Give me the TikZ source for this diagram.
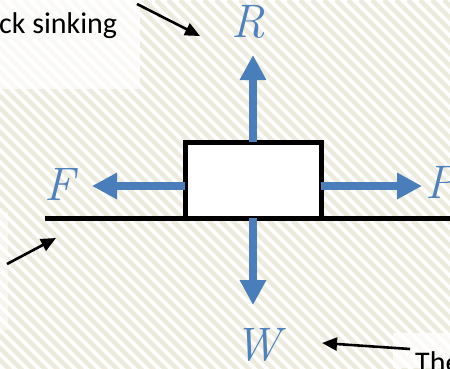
\documentclass[tikz,border=0pt]{standalone}
\usepackage{fontspec}
\newfontfamily\calibri{Carlito}
\usetikzlibrary{arrows.meta}
\definecolor{forceblue}{HTML}{4A7EBB}
\definecolor{labelblue}{HTML}{4F81BD}
\definecolor{stripebeige}{HTML}{ECEBDD}
\tikzset{
  stripe/.style={stripebeige, line width=4.5pt},
  force/.style={forceblue, line width=8.5pt, -{Triangle[length=25pt,width=25pt]}, shorten >=0pt},
  pointer/.style={black, line width=2.6pt, -{Triangle[length=15pt,width=13pt]}},
  flabel/.style={labelblue, inner sep=0pt, anchor=base, font=\fontsize{47}{47}\selectfont\itshape\addfontfeatures{FakeBold=4}},
  note/.style={inner sep=0pt, anchor=base west, font=\calibri\fontsize{30}{30}\selectfont},
  box/.style={draw=black, fill=white, line width=5pt, outer sep=0pt, inner sep=0pt, minimum width=136pt, minimum height=76pt},
  ground/.style={black, line width=5pt},
  paper/.style={white, opacity=0.75}
}
\begin{document}
\begin{tikzpicture}[x=1pt,y=-1pt]
\useasboundingbox (0,0) rectangle (450,368);
% background
\begin{scope}
  \clip (0,0) rectangle (450,368);
  \fill[white] (0,0) rectangle (450,368);
  \foreach \i in {-384,-372,...,460} \draw[stripe] (\i,0) -- ++(390,390);
  \fill[paper] (0,0) rectangle (140,89);
  \fill[paper] (393,333) rectangle (450,368);
  \fill[paper, opacity=0.5] (0,212) rectangle (8,330);
\end{scope}
% coordinates
\coordinate (g1) at (45,218.5);
\coordinate (g2) at (452,218.5);
\coordinate (tipR) at (253,55);
\coordinate (tipF) at (92,186);
\coordinate (tipP) at (422,186);
\coordinate (tipW) at (253,305);
\coordinate (p1s) at (137,4);
\coordinate (p1e) at (200,36);
\coordinate (p2s) at (7,264);
\coordinate (p2e) at (56,238);
\coordinate (p3s) at (410,349);
\coordinate (p3e) at (322,343);
% ground and block
\draw[ground] (g1) -- (g2);
\node[box] (blk) at (253,180) {};
% forces
\draw[force] (blk.north) -- (tipR);
\draw[force] (blk.west |- tipF) -- (tipF);
\draw[force] (blk.east |- tipP) -- (tipP);
\draw[force] (blk.south) -- (tipW);
% labels
\node[flabel] (lR) at (248,37) {R};
\node[flabel] (lF) at (59,200) {F};
\node[flabel] (lP) at (441,198) {P};
\node[flabel] (lW) at (257,360) {W};
% notes
\node[note] (n1) at (-1,33) {ck sinking};
\node[note] (n3) at (415,372) {The};
% pointers
\draw[pointer] (p1s) -- (p1e);
\draw[pointer] (p2s) -- (p2e);
\draw[pointer] (p3s) -- (p3e);
\end{tikzpicture}
\end{document}
